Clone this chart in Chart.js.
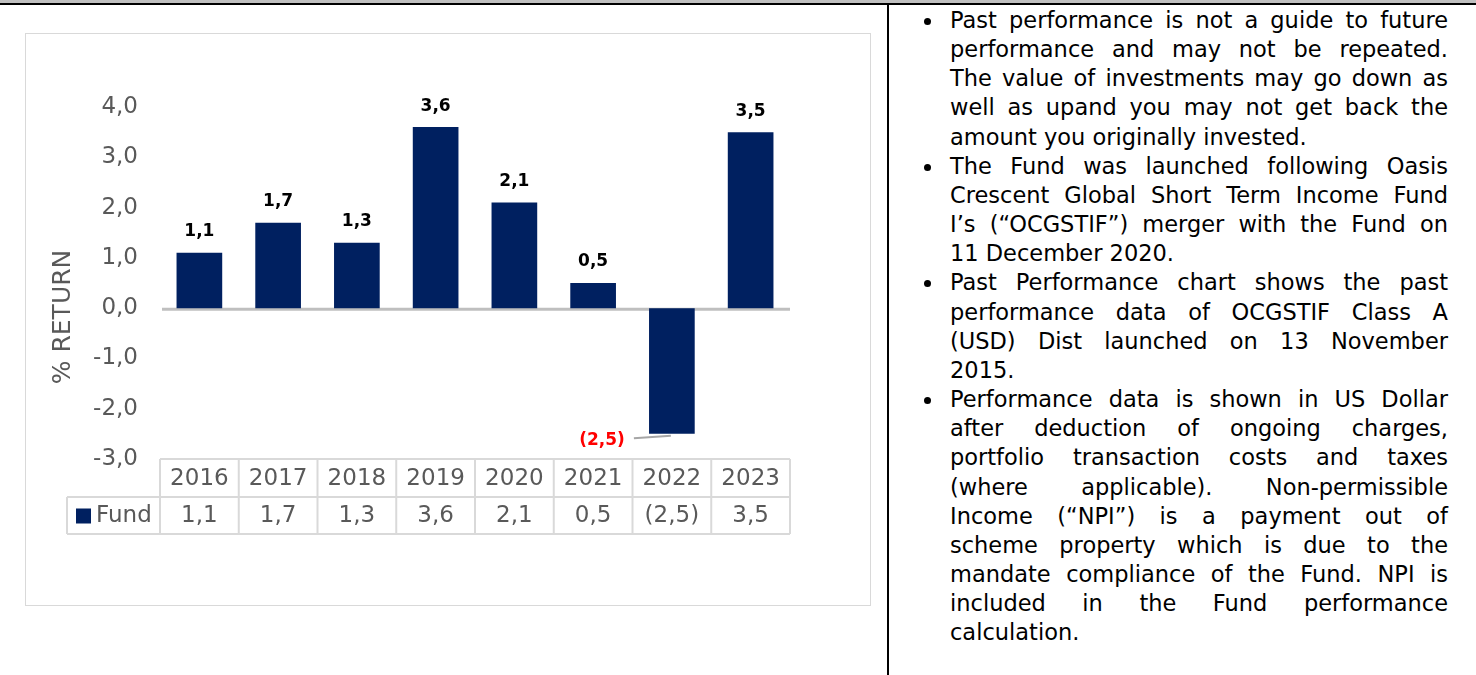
<!DOCTYPE html>
<html lang="en">
  <head>
    <meta charset="UTF-8" />
    <title>Fund past performance</title>
    <style>
      * {
        margin: 0;
        padding: 0;
        box-sizing: border-box;
      }
      body {
        width: 1476px;
        height: 675px;
        background: #fff;
        position: relative;
        overflow: hidden;
      }
      .topRule {
        position: absolute;
        left: 0;
        top: 0;
        width: 1476px;
        height: 3px;
        background: #c0c0c0;
      }
      .topRule2 {
        position: absolute;
        left: 0;
        top: 3px;
        width: 1476px;
        height: 2px;
        background: #000;
      }
      .divider {
        position: absolute;
        left: 887px;
        top: 3px;
        width: 2px;
        height: 672px;
        background: #000;
      }
      .chartBox {
        position: absolute;
        left: 25px;
        top: 33px;
        width: 846px;
        height: 573px;
        border: 1px solid #d9d9d9;
      }
      .chartBox canvas {
        display: block;
      }
      .notes {
        position: absolute;
        left: 950px;
        top: 6px;
        width: 498px;
        font-family: "DejaVu Sans", sans-serif;
        font-size: 22.5px;
        line-height: 29.15px;
        color: #000;
      }
      .notes .item {
        position: relative;
      }
      .notes .item::before {
        content: "";
        position: absolute;
        left: -26px;
        top: 12px;
        width: 7px;
        height: 7px;
        border-radius: 50%;
        background: #000;
      }
      .notes .ln {
        white-space: nowrap;
        text-align: justify;
        text-align-last: justify;
      }
      .notes .ln.last {
        text-align-last: left;
      }
    </style>
  </head>
  <body>
    <div class="topRule"></div>
    <div class="topRule2"></div>
    <div class="divider"></div>

    <div class="chartBox">
      <canvas id="myChart" width="844" height="571"></canvas>
    </div>

    <div class="notes">
      <div class="item">
        <div class="ln">Past performance is not a guide to future</div>
        <div class="ln">performance and may not be repeated.</div>
        <div class="ln">The value of investments may go down as</div>
        <div class="ln">well as upand you may not get back the</div>
        <div class="ln last">amount you originally invested.</div>
      </div>
      <div class="item">
        <div class="ln">The Fund was launched following Oasis</div>
        <div class="ln">Crescent Global Short Term Income Fund</div>
        <div class="ln">I’s (“OCGSTIF”) merger with the Fund on</div>
        <div class="ln last">11 December 2020.</div>
      </div>
      <div class="item">
        <div class="ln">Past Performance chart shows the past</div>
        <div class="ln">performance data of OCGSTIF Class A</div>
        <div class="ln">(USD) Dist launched on 13 November</div>
        <div class="ln last">2015.</div>
      </div>
      <div class="item">
        <div class="ln">Performance data is shown in US Dollar</div>
        <div class="ln">after deduction of ongoing charges,</div>
        <div class="ln">portfolio transaction costs and taxes</div>
        <div class="ln">(where applicable). Non-permissible</div>
        <div class="ln">Income (“NPI”) is a payment out of</div>
        <div class="ln">scheme property which is due to the</div>
        <div class="ln">mandate compliance of the Fund. NPI is</div>
        <div class="ln">included in the Fund performance</div>
        <div class="ln last">calculation.</div>
      </div>
    </div>

    <script src="https://cdn.jsdelivr.net/npm/chart.js"></script>

    <script>
      const years = ["2016", "2017", "2018", "2019", "2020", "2021", "2022", "2023"];
      const fundReturns = [1.1, 1.7, 1.3, 3.6, 2.1, 0.5, -2.5, 3.5];
      const seriesName = "Fund";
      const axisTitle = "% RETURN";
      const yMin = -3;
      const yMax = 4;

      const navy = "#002060";
      const grey = "#595959";
      const lineGrey = "#d9d9d9";
      const font = "DejaVu Sans, Verdana, sans-serif";

      // 1,1 style for positives, (2,5) for negatives
      function fmt(v) {
        const s = Math.abs(v).toFixed(1).replace(".", ",");
        return v < 0 ? "(" + s + ")" : s;
      }

      const zeroLine = {
        id: "zeroLine",
        beforeDatasetsDraw(chart) {
          const { ctx, chartArea, scales: { y } } = chart;
          const yz = y.getPixelForValue(0);
          ctx.save();
          ctx.strokeStyle = "#bfbfbf";
          ctx.lineWidth = 3;
          ctx.beginPath();
          ctx.moveTo(chartArea.left + 2, yz + 1);
          ctx.lineTo(chartArea.right, yz + 1);
          ctx.stroke();
          ctx.restore();
        },
      };

      const barLabels = {
        id: "barLabels",
        afterDatasetsDraw(chart) {
          const { ctx } = chart;
          const meta = chart.getDatasetMeta(0);
          ctx.save();
          ctx.font = "bold 17px " + font;
          ctx.textBaseline = "middle";
          meta.data.forEach((bar, i) => {
            const v = fundReturns[i];
            if (v >= 0) {
              ctx.fillStyle = "#000";
              ctx.textAlign = "center";
              ctx.fillText(fmt(v), bar.x, bar.y - 21);
            } else {
              // leader line out to the left of the bar end
              ctx.strokeStyle = "#a6a6a6";
              ctx.lineWidth = 2;
              ctx.beginPath();
              ctx.moveTo(bar.x - 1, bar.y + 2);
              ctx.lineTo(bar.x - 38, bar.y + 4.5);
              ctx.stroke();
              ctx.fillStyle = "#ff0000";
              ctx.textAlign = "right";
              ctx.fillText(fmt(v), bar.x - 47, bar.y + 7);
            }
          });
          ctx.restore();
        },
      };

      const dataTable = {
        id: "dataTable",
        afterDraw(chart) {
          const { ctx, chartArea, scales: { x } } = chart;
          const colW = x.getPixelForValue(1) - x.getPixelForValue(0);
          const top = chartArea.bottom;
          const mid = top + 38;
          const bot = mid + 37;
          const legLeft = chartArea.left - 93;
          ctx.save();
          ctx.strokeStyle = lineGrey;
          ctx.lineWidth = 2;
          ctx.beginPath();
          ctx.moveTo(chartArea.left, top);
          ctx.lineTo(chartArea.right, top);
          ctx.moveTo(legLeft, mid);
          ctx.lineTo(chartArea.right, mid);
          ctx.moveTo(legLeft, bot);
          ctx.lineTo(chartArea.right, bot);
          ctx.moveTo(legLeft, mid);
          ctx.lineTo(legLeft, bot);
          for (let i = 0; i <= years.length; i++) {
            const xe = x.getPixelForValue(i) - colW / 2;
            ctx.moveTo(xe, top);
            ctx.lineTo(xe, bot);
          }
          ctx.stroke();

          ctx.font = "23px " + font;
          ctx.fillStyle = grey;
          ctx.textAlign = "center";
          ctx.textBaseline = "middle";
          years.forEach((yr, i) => {
            const cx = x.getPixelForValue(i);
            ctx.fillText(yr, cx, (top + mid) / 2 + 1);
            ctx.fillText(fmt(fundReturns[i]), cx, (mid + bot) / 2 + 1);
          });

          ctx.fillStyle = navy;
          ctx.fillRect(legLeft + 9, (mid + bot) / 2 - 7, 15, 15);
          ctx.fillStyle = grey;
          ctx.textAlign = "left";
          ctx.fillText(seriesName, legLeft + 29, (mid + bot) / 2 + 1);
          ctx.restore();
        },
      };

      const yTitle = {
        id: "yTitle",
        afterDraw(chart) {
          const { ctx } = chart;
          ctx.save();
          ctx.translate(37, 283);
          ctx.rotate(-Math.PI / 2);
          ctx.font = "25px " + font;
          ctx.fillStyle = grey;
          ctx.textAlign = "center";
          ctx.textBaseline = "middle";
          ctx.fillText(axisTitle, 0, 0);
          ctx.restore();
        },
      };

      const data = {
        labels: years,
        datasets: [
          {
            label: seriesName,
            data: fundReturns,
            backgroundColor: navy,
            borderWidth: 0,
            barPercentage: 0.58,
            categoryPercentage: 1,
          },
        ],
      };

      const config = {
        type: "bar",
        data: data,
        options: {
          responsive: false,
          animation: false,
          layout: {
            padding: { top: 73, bottom: 146, left: 0, right: 80 },
          },
          plugins: {
            legend: { display: false },
            tooltip: { enabled: false },
          },
          scales: {
            x: {
              display: false,
            },
            y: {
              min: yMin,
              max: yMax,
              grid: { display: false, drawTicks: false },
              border: { display: false },
              ticks: {
                stepSize: 1,
                padding: 22,
                color: grey,
                font: { family: font, size: 23 },
                callback: (v) => (v < 0 ? "-" : "") + Math.abs(v).toFixed(1).replace(".", ","),
              },
              afterFit(scale) {
                scale.width = 134;
              },
            },
          },
        },
        plugins: [zeroLine, barLabels, dataTable, yTitle],
      };

      const myChart = new Chart(document.getElementById("myChart"), config);
    </script>
  </body>
</html>
